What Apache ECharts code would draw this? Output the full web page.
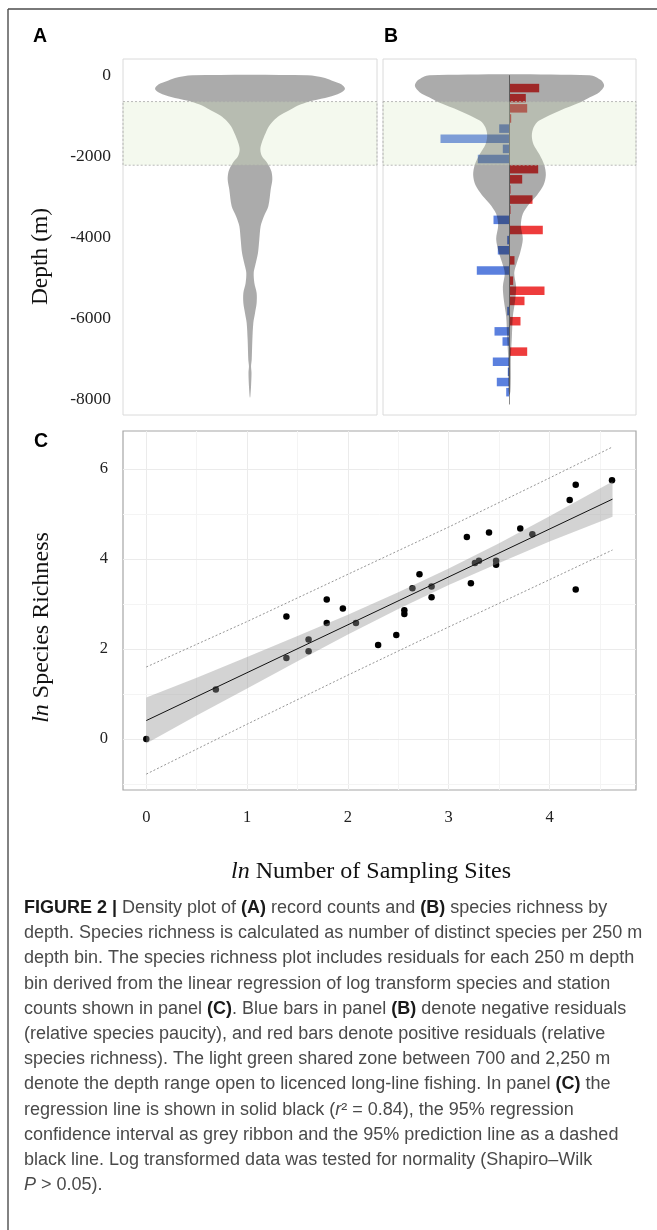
<!DOCTYPE html>
<html lang="en">
  <head>
    <meta charset="UTF-8" />
    <title>Figure 2 - depth density and species richness</title>
    <script src="https://cdn.jsdelivr.net/npm/echarts@6.0.0/dist/echarts.min.js"></script>
    <style>
      * {
        margin: 0;
        padding: 0;
      }
      body {
        background: #fff;
      }
      #chart {
        width: 657px;
        height: 1230px;
      }
    </style>
  </head>
  <body>
    <div id="chart"></div>
    <script>
      // depth axis (m)
      const depthTicks = [0, -2000, -4000, -6000, -8000];
      const fishingZone = [-650, -2220];

      // panel A: record density by depth (relative half width)
      const densADepth = [0, -66, -148, -230, -337, -436, -535, -625, -724, -847, -970, -1094, -1258, -1423, -1669, -1834, -1998, -2163, -2368, -2574, -2821, -3232, -3479, -3725, -4054, -4383, -4712, -4877, -5123, -5370, -5617, -5863, -6110, -6521, -7015, -7179, -7344, -7673, -7919, -7960];
      const densA = [0.607, 0.79, 0.88, 0.965, 1.0, 0.95, 0.83, 0.667, 0.53, 0.428, 0.33, 0.26, 0.2, 0.165, 0.123, 0.109, 0.126, 0.182, 0.225, 0.235, 0.218, 0.193, 0.147, 0.112, 0.098, 0.084, 0.053, 0.039, 0.046, 0.07, 0.07, 0.053, 0.035, 0.025, 0.018, 0.011, 0.016, 0.011, 0.004, 0];

      // panel B: species richness density by depth
      const densBDepth = [0, -125, -267, -417, -542, -667, -875, -1125, -1292, -1500, -1708, -1958, -2208, -2458, -2708, -2958, -3167, -3417, -3708, -4042, -4375, -4625, -4875, -5208, -5542, -5958, -6458, -6958, -7458, -7792, -7900];
      const densB = [0.847, 0.97, 1.0, 0.95, 0.85, 0.75, 0.53, 0.31, 0.254, 0.236, 0.254, 0.317, 0.367, 0.384, 0.36, 0.29, 0.21, 0.141, 0.12, 0.141, 0.113, 0.078, 0.05, 0.07, 0.06, 0.035, 0.025, 0.014, 0.014, 0.01, 0];

      // panel B: residuals per 250 m bin
      const binDepth = [-317, -567, -817, -1067, -1317, -1567, -1817, -2067, -2317, -2567, -2817, -3067, -3317, -3567, -3817, -4067, -4317, -4567, -4817, -5067, -5317, -5567, -5817, -6067, -6317, -6567, -6817, -7067, -7317, -7567, -7817];
      const residuals = [0.297, 0.163, 0.177, 0.017, -0.103, -0.69, -0.067, -0.317, 0.287, 0.127, 0.01, 0.23, 0.01, -0.16, 0.333, -0.023, -0.117, 0.05, -0.327, 0.037, 0.35, 0.15, -0.023, 0.11, -0.15, -0.07, 0.177, -0.167, -0.017, -0.127, -0.033];

      // panel C: ln sites vs ln richness
      const sitesLn = [0, 0.69, 1.39, 1.39, 1.61, 1.61, 1.79, 1.79, 1.95, 2.08, 2.3, 2.48, 2.56, 2.56, 2.64, 2.71, 2.83, 2.83, 3.18, 3.22, 3.26, 3.3, 3.4, 3.47, 3.47, 3.71, 3.83, 4.2, 4.26, 4.26, 4.62];
      const richnessLn = [0, 1.1, 2.72, 1.8, 2.21, 1.95, 3.1, 2.58, 2.9, 2.58, 2.09, 2.31, 2.86, 2.78, 3.35, 3.66, 3.39, 3.15, 4.49, 3.46, 3.91, 3.96, 4.59, 3.96, 3.87, 4.68, 4.55, 5.31, 5.65, 3.32, 5.75];
      const fitX = [0, 4.625];
      const fitY = [0.41, 5.33];
      const ciX = [0, 0.5, 1, 1.5, 2, 2.5, 3, 3.5, 4, 4.625];
      const ciLow = [-0.1, 0.52, 1.12, 1.73, 2.32, 2.89, 3.42, 3.91, 4.39, 4.94];
      const ciHigh = [0.92, 1.36, 1.82, 2.29, 2.76, 3.26, 3.79, 4.35, 4.95, 5.72];
      const piX = [0, 1, 2, 3, 4, 4.625];
      const piLow = [-0.78, 0.33, 1.42, 2.49, 3.54, 4.2];
      const piHigh = [1.6, 2.61, 3.66, 4.71, 5.8, 6.49];
      const xTicks = [0, 1, 2, 3, 4];
      const yTicks = [0, 2, 4, 6];
      const xMinor = [0.5, 1.5, 2.5, 3.5, 4.5];
      const yMinor = [-1, 1, 3, 5];

      const SERIF = "Liberation Serif";
      const SANS = "Liberation Sans";
      const VX = 1.337; // half range of the density axes
      const RX = 1.265; // half range of the residual axis
      const SHADE = "rgba(0,0,0,0.33)"; // violin grey, darkens the bars below it

      const chart = echarts.init(document.getElementById("chart"));

      const violin = (depths, widths) => (params, api) => {
        const right = depths.map((d, i) => api.coord([widths[i], d]));
        const left = depths.map((d, i) => api.coord([-widths[i], d])).reverse();
        return {
          type: "polygon",
          shape: { points: right.concat(left), smooth: 0.3 },
          style: { fill: SHADE },
        };
      };

      const band = (params, api) => {
        const a = api.coord([-VX, fishingZone[0]]);
        const b = api.coord([VX, fishingZone[1]]);
        return {
          type: "rect",
          shape: { x: a[0], y: a[1], width: b[0] - a[0], height: b[1] - a[1] },
          style: {
            fill: "rgba(215,235,195,0.28)",
            stroke: "#a9a9a9",
            lineWidth: 0.8,
            lineDash: [2, 2],
          },
        };
      };

      const hiddenX = (grid, lim) => ({
        type: "value",
        gridIndex: grid,
        min: -lim,
        max: lim,
        show: false,
      });

      const depthAxis = (grid, labels) => ({
        type: "value",
        gridIndex: grid,
        min: -8380,
        max: 400,
        axisLine: { show: false },
        axisTick: { show: false },
        splitLine: { show: false },
        axisLabel: {
          show: labels,
          customValues: depthTicks,
          formatter: (v) => String(v),
          fontFamily: SERIF,
          fontSize: 17.5,
          color: "#222",
          margin: 12,
        },
      });

      const gridLines = xTicks
        .map((v) => ({ xAxis: v, lineStyle: { color: "#ebebeb" } }))
        .concat(xMinor.map((v) => ({ xAxis: v, lineStyle: { color: "#f4f4f4" } })))
        .concat(yTicks.map((v) => ({ yAxis: v, lineStyle: { color: "#ebebeb" } })))
        .concat(yMinor.map((v) => ({ yAxis: v, lineStyle: { color: "#f4f4f4" } })));

      const captionLines = [
        "{b|FIGURE 2 |} Density plot of {b|(A)} record counts and {b|(B)} species richness by",
        "depth. Species richness is calculated as number of distinct species per 250 m",
        "depth bin. The species richness plot includes residuals for each 250 m depth",
        "bin derived from the linear regression of log transform species and station",
        "counts shown in panel {b|(C)}. Blue bars in panel {b|(B)} denote negative residuals",
        "(relative species paucity), and red bars denote positive residuals (relative",
        "species richness). The light green shared zone between 700 and 2,250 m",
        "denote the depth range open to licenced long-line fishing. In panel {b|(C)} the",
        "regression line is shown in solid black ({i|r}² = 0.84), the 95% regression",
        "confidence interval as grey ribbon and the 95% prediction line as a dashed",
        "black line. Log transformed data was tested for normality (Shapiro–Wilk",
        "{i|P} > 0.05).",
      ];
      const CAP = 18;
      const capRich = {
        b: { fontFamily: SANS, fontSize: CAP, fontWeight: "bold", fill: "#1a1a1a", color: "#1a1a1a" },
        i: { fontFamily: SANS, fontSize: CAP, fontStyle: "italic", fill: "#4a4a4a", color: "#4a4a4a" },
      };

      const serifRich = {
        i: { fontFamily: SERIF, fontSize: 24, fontStyle: "italic", fill: "#111", color: "#111" },
      };

      const letter = (t, x, y) => ({
        type: "text",
        x: x,
        y: y,
        style: {
          text: t,
          fontFamily: SANS,
          fontWeight: "bold",
          fontSize: 19.5,
          fill: "#000",
          verticalAlign: "middle",
          textVerticalAlign: "middle",
        },
      });

      const option = {
        animation: false,
        backgroundColor: "#fff",
        grid: [
          { left: 123, top: 59, width: 254, height: 356, show: true, borderColor: "#dadada", borderWidth: 1 },
          { left: 383, top: 59, width: 253, height: 356, show: true, borderColor: "#dadada", borderWidth: 1 },
          { left: 123, top: 431, width: 513, height: 359, show: true, borderColor: "#a6a6a6", borderWidth: 1.2 },
        ],
        xAxis: [
          hiddenX(0, VX),
          hiddenX(1, VX),
          hiddenX(1, RX),
          {
            type: "value",
            gridIndex: 2,
            min: -0.231,
            max: 4.858,
            axisLine: { show: false },
            axisTick: { show: false },
            splitLine: { show: false },
            axisLabel: {
              customValues: xTicks,
              fontFamily: SERIF,
              fontSize: 16.5,
              color: "#222",
              margin: 19,
            },
          },
        ],
        yAxis: [
          depthAxis(0, true),
          depthAxis(1, false),
          {
            type: "value",
            gridIndex: 2,
            min: -1.133,
            max: 6.844,
            axisLine: { show: false },
            axisTick: { show: false },
            splitLine: { show: false },
            axisLabel: {
              customValues: yTicks,
              fontFamily: SERIF,
              fontSize: 16.5,
              color: "#222",
              margin: 15,
            },
          },
        ],
        series: [
          // panel A
          {
            type: "custom",
            xAxisIndex: 0,
            yAxisIndex: 0,
            z: 4,
            data: [[0, 0]],
            renderItem: violin(densADepth, densA),
          },
          {
            type: "custom",
            xAxisIndex: 0,
            yAxisIndex: 0,
            z: 5,
            data: [[0, fishingZone[0]]],
            renderItem: band,
          },
          // panel B: residual bars first, violin shades them
          {
            type: "custom",
            xAxisIndex: 2,
            yAxisIndex: 1,
            z: 2,
            data: residuals.map((r, i) => [r, binDepth[i]]),
            renderItem: (params, api) => {
              const r = api.value(0);
              const d = api.value(1);
              const a = api.coord([0, d + 105]);
              const b = api.coord([r, d - 105]);
              return {
                type: "rect",
                shape: {
                  x: Math.min(a[0], b[0]),
                  y: a[1],
                  width: Math.abs(b[0] - a[0]),
                  height: b[1] - a[1],
                },
                style: { fill: r > 0 ? "#ee3c3c" : "#5b80de" },
              };
            },
          },
          {
            type: "line",
            xAxisIndex: 2,
            yAxisIndex: 1,
            z: 3,
            symbol: "none",
            lineStyle: { color: "#8a8a8a", width: 1 },
            data: [
              [0, 0],
              [0, -8120],
            ],
          },
          {
            type: "custom",
            xAxisIndex: 1,
            yAxisIndex: 1,
            z: 4,
            data: [[0, 0]],
            renderItem: violin(densBDepth, densB),
          },
          {
            type: "custom",
            xAxisIndex: 1,
            yAxisIndex: 1,
            z: 5,
            data: [[0, fishingZone[0]]],
            renderItem: band,
          },
          // panel C
          {
            type: "scatter",
            xAxisIndex: 3,
            yAxisIndex: 2,
            z: 2,
            symbolSize: 6.5,
            itemStyle: { color: "#000", opacity: 1 },
            data: sitesLn.map((x, i) => [x, richnessLn[i]]),
            markLine: {
              silent: true,
              z: 1,
              symbol: "none",
              label: { show: false },
              emphasis: { disabled: true },
              lineStyle: { type: "solid", width: 1 },
              data: gridLines,
            },
          },
          {
            type: "custom",
            xAxisIndex: 3,
            yAxisIndex: 2,
            z: 3,
            data: [[0, 0]],
            renderItem: (params, api) => {
              const up = ciX.map((x, i) => api.coord([x, ciHigh[i]]));
              const lo = ciX.map((x, i) => api.coord([x, ciLow[i]])).reverse();
              return {
                type: "polygon",
                shape: { points: up.concat(lo) },
                style: { fill: "rgba(150,150,150,0.42)" },
              };
            },
          },
          {
            type: "line",
            xAxisIndex: 3,
            yAxisIndex: 2,
            z: 4,
            symbol: "none",
            lineStyle: { color: "#111", width: 1 },
            data: fitX.map((x, i) => [x, fitY[i]]),
          },
          {
            type: "line",
            xAxisIndex: 3,
            yAxisIndex: 2,
            z: 4,
            symbol: "none",
            lineStyle: { color: "#7a7a7a", width: 0.8, type: [2, 2] },
            data: piX.map((x, i) => [x, piHigh[i]]),
          },
          {
            type: "line",
            xAxisIndex: 3,
            yAxisIndex: 2,
            z: 4,
            symbol: "none",
            lineStyle: { color: "#7a7a7a", width: 0.8, type: [2, 2] },
            data: piX.map((x, i) => [x, piLow[i]]),
          },
        ],
        graphic: [
          {
            type: "line",
            shape: { x1: 8, y1: 9, x2: 657, y2: 9 },
            style: { stroke: "#4d4d4d", lineWidth: 1.4 },
          },
          {
            type: "line",
            shape: { x1: 8, y1: 9, x2: 8, y2: 1230 },
            style: { stroke: "#4d4d4d", lineWidth: 1.4 },
          },
          letter("A", 33, 36.5),
          letter("B", 384, 37),
          letter("C", 34, 441.5),
          {
            type: "text",
            x: 40.5,
            y: 256.5,
            rotation: Math.PI / 2,
            style: {
              text: "Depth (m)",
              fontFamily: SERIF,
              fontSize: 23.5,
              fill: "#111",
              align: "center",
              verticalAlign: "middle",
              textAlign: "center",
              textVerticalAlign: "middle",
            },
          },
          {
            type: "text",
            x: 42,
            y: 627.5,
            rotation: Math.PI / 2,
            style: {
              text: "{i|ln} Species Richness",
              rich: serifRich,
              fontFamily: SERIF,
              fontSize: 24,
              fill: "#111",
              align: "center",
              verticalAlign: "middle",
              textAlign: "center",
              textVerticalAlign: "middle",
            },
          },
          {
            type: "text",
            x: 371,
            y: 872,
            style: {
              text: "{i|ln} Number of Sampling Sites",
              rich: serifRich,
              fontFamily: SERIF,
              fontSize: 24,
              fill: "#111",
              align: "center",
              verticalAlign: "middle",
              textAlign: "center",
              textVerticalAlign: "middle",
            },
          },
        ].concat(
          captionLines.map((t, i) => ({
            type: "text",
            x: 24,
            y: 908 + i * 25.2,
            style: {
              text: t,
              rich: capRich,
              fontFamily: SANS,
              fontSize: CAP,
              fill: "#4a4a4a",
              verticalAlign: "middle",
              textVerticalAlign: "middle",
            },
          }))
        ),
      };

      chart.setOption(option);
    </script>
  </body>
</html>
